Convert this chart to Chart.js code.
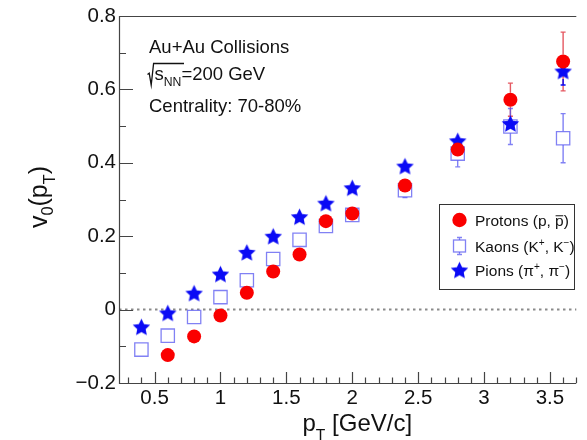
<!DOCTYPE html>
<html>
<head>
<meta charset="utf-8">
<script src="https://cdn.jsdelivr.net/npm/chart.js@4.4.0/dist/chart.umd.min.js"></script>
<style>
  html, body { margin: 0; padding: 0; background: #fff; overflow: hidden; }
  canvas { display: block; }
</style>
</head>
<body>
<canvas id="c" width="587" height="440"></canvas>
<script>
const FONT = '"Liberation Sans", Arial, Helvetica, sans-serif';

// transverse momentum bins, GeV/c
const ptProtons = [0.6, 0.8, 1.0, 1.2, 1.4, 1.6, 1.8, 2.0, 2.4, 2.8, 3.2, 3.6];
const ptKaons   = [0.4, 0.6, 0.8, 1.0, 1.2, 1.4, 1.6, 1.8, 2.0, 2.4, 2.8, 3.2, 3.6];
const ptPions   = [0.4, 0.6, 0.8, 1.0, 1.2, 1.4, 1.6, 1.8, 2.0, 2.4, 2.8, 3.2, 3.6];

// v0(pT) values
const v0Protons = [-0.124, -0.073, -0.016, 0.046, 0.104, 0.150, 0.241, 0.262, 0.338, 0.436, 0.572, 0.676];
const v0Kaons   = [-0.109, -0.071, -0.020, 0.034, 0.080, 0.138, 0.190, 0.228, 0.258, 0.325, 0.425, 0.499, 0.467];
const v0Pions   = [-0.047, -0.009, 0.045, 0.097, 0.156, 0.200, 0.253, 0.290, 0.332, 0.391, 0.460, 0.507, 0.650];

// uncertainties
const errProtons = [0.004, 0.004, 0.004, 0.004, 0.004, 0.005, 0.005, 0.006, 0.010, 0.016, 0.045, 0.080];
const errKaons   = [0.004, 0.004, 0.004, 0.004, 0.004, 0.005, 0.005, 0.006, 0.007, 0.020, 0.036, 0.049, 0.067];
const errPions   = [0.003, 0.003, 0.003, 0.003, 0.003, 0.004, 0.004, 0.005, 0.005, 0.008, 0.012, 0.020, 0.038];

// axis tick labels
const xTickValues = [0.5, 1.0, 1.5, 2.0, 2.5, 3.0, 3.5];
const yTickValues = [-0.2, 0, 0.2, 0.4, 0.6, 0.8];

const RED = 'rgb(250,0,0)';
const BLUE = 'rgb(10,10,245)';
const KAON_BLUE = 'rgba(80,80,240,0.72)';

// filled five-pointed star used as the pion marker
function makeStar(R, ratio, color) {
  const s = Math.ceil(R * 2 + 4);
  const cv = document.createElement('canvas');
  cv.width = s; cv.height = s;
  const g = cv.getContext('2d');
  g.translate(s / 2, s / 2 + R * 0.1);
  g.beginPath();
  for (let i = 0; i < 10; i++) {
    const r = i % 2 === 0 ? R : R * ratio;
    const a = -Math.PI / 2 + i * Math.PI / 5;
    const px = r * Math.cos(a), py = r * Math.sin(a);
    if (i === 0) g.moveTo(px, py); else g.lineTo(px, py);
  }
  g.closePath();
  g.fillStyle = color;
  g.fill();
  return cv;
}
const starImg = makeStar(9.2, 0.48, BLUE);

const toPoints = (xs, ys) => xs.map((x, i) => ({ x: x, y: ys[i] }));

// draw a run of text segments (plain / sub / sup / overlined)
function richWidth(ctx, segs, size) {
  let w = 0;
  for (const s of segs) {
    const fs = (s.sub || s.sup) ? size * (s.scale || 0.65) : size;
    ctx.font = fs + 'px ' + FONT;
    w += ctx.measureText(s.t).width;
  }
  return w;
}
function drawRich(ctx, x, y, segs, size) {
  for (const s of segs) {
    const fs = (s.sub || s.sup) ? size * (s.scale || 0.65) : size;
    ctx.font = fs + 'px ' + FONT;
    let yy = y;
    if (s.sub) yy = y + size * (s.drop || 0.28);
    if (s.sup) yy = y - size * 0.38;
    ctx.fillText(s.t, x, yy);
    const w = ctx.measureText(s.t).width;
    if (s.bar) {
      ctx.save();
      ctx.strokeStyle = ctx.fillStyle;
      ctx.lineWidth = 1;
      ctx.beginPath();
      ctx.moveTo(x + 0.5, yy - size * 0.66);
      ctx.lineTo(x + w - 0.5, yy - size * 0.66);
      ctx.stroke();
      ctx.restore();
    }
    x += w;
  }
  return x;
}

const legendEntries = [
  { kind: 'proton', segs: [{ t: 'Protons (p, ' }, { t: 'p', bar: true }, { t: ')' }] },
  { kind: 'kaon',   segs: [{ t: 'Kaons (K' }, { t: '+', sup: true }, { t: ', K' }, { t: '\u2212', sup: true }, { t: ')' }] },
  { kind: 'pion',   segs: [{ t: 'Pions (\u03c0' }, { t: '+', sup: true }, { t: ', \u03c0' }, { t: '\u2212', sup: true }, { t: ')' }] }
];

const decor = {
  id: 'decor',
  beforeDatasetsDraw(chart) {
    const ctx = chart.ctx, ys = chart.scales.y, a = chart.chartArea;
    // dotted zero line
    ctx.save();
    ctx.strokeStyle = '#8a8a8a';
    ctx.lineWidth = 2;
    ctx.setLineDash([2.5, 3.5]);
    const y0 = ys.getPixelForValue(0);
    ctx.beginPath();
    ctx.moveTo(a.left, y0);
    ctx.lineTo(a.right, y0);
    ctx.stroke();
    ctx.restore();

    // error bars, stopping at the marker edge
    chart.data.datasets.forEach((ds, di) => {
      const meta = chart.getDatasetMeta(di);
      ctx.save();
      ctx.strokeStyle = ds.errColor;
      ctx.lineWidth = 1.4;
      meta.data.forEach((pt, i) => {
        const e = ds.errors[i];
        const v = ds.data[i].y;
        const top = ys.getPixelForValue(v + e);
        const bot = ys.getPixelForValue(v - e);
        const cx = pt.x, cy = pt.y, h = ds.markerHalf;
        if (cy - top <= h) return;
        ctx.beginPath();
        ctx.moveTo(cx, cy - h); ctx.lineTo(cx, top);
        ctx.moveTo(cx, cy + h); ctx.lineTo(cx, bot);
        ctx.moveTo(cx - 2.5, top); ctx.lineTo(cx + 2.5, top);
        ctx.moveTo(cx - 2.5, bot); ctx.lineTo(cx + 2.5, bot);
        ctx.stroke();
      });
      ctx.restore();
    });
  },
  afterDraw(chart) {
    const ctx = chart.ctx, xs = chart.scales.x, ys = chart.scales.y, a = chart.chartArea;
    ctx.save();
    // frame
    ctx.strokeStyle = '#444';
    ctx.lineWidth = 1.2;
    ctx.beginPath();
    ctx.moveTo(a.right, a.top + 0.5);
    ctx.lineTo(a.left + 0.5, a.top + 0.5);
    ctx.lineTo(a.left + 0.5, a.bottom + 0.5);
    ctx.lineTo(a.right, a.bottom + 0.5);
    ctx.stroke();

    // inward ticks on the y axis: major every 0.2, minor every 0.1
    ctx.beginPath();
    for (let k = -2; k <= 8; k++) {
      const y = Math.round(ys.getPixelForValue(k / 10)) + 0.5;
      const len = (k % 2 === 0) ? 14 : 7;
      ctx.moveTo(a.left, y); ctx.lineTo(a.left + len, y);
    }
    // inward ticks on the x axis: major every 0.5, minor every 0.1
    for (let k = 3; k <= 37; k++) {
      const x = Math.round(xs.getPixelForValue(k / 10)) + 0.5;
      const len = (k % 5 === 0) ? 11 : 5.5;
      ctx.moveTo(x, a.bottom); ctx.lineTo(x, a.bottom - len);
    }
    ctx.stroke();

    ctx.fillStyle = '#111';
    ctx.textAlign = 'left';
    ctx.textBaseline = 'alphabetic';

    // y axis title: v0(pT)
    ctx.save();
    ctx.translate(47, 197);
    ctx.rotate(-Math.PI / 2);
    const ySegs = [{ t: 'v' }, { t: '0', sub: true, drop: 0.25 }, { t: '(p' }, { t: 'T', sub: true, drop: 0.3 }, { t: ')' }];
    const yw = richWidth(ctx, ySegs, 25);
    drawRich(ctx, -yw / 2, 0, ySegs, 25);
    ctx.restore();

    // x axis title: pT [GeV/c]
    const xSegs = [{ t: 'p' }, { t: 'T', sub: true, drop: 0.42 }, { t: ' [GeV/c]' }];
    drawRich(ctx, 302.5, 431, xSegs, 24);

    // collision system annotation
    ctx.font = '18.5px ' + FONT;
    ctx.fillText('Au+Au Collisions', 149, 53);
    ctx.fillText('Centrality: 70-80%', 149, 112);
    ctx.strokeStyle = '#111';
    ctx.lineWidth = 1.3;
    ctx.beginPath();
    ctx.moveTo(147.5, 74.5);
    ctx.lineTo(149.2, 73.2);
    ctx.lineTo(151.2, 85);
    ctx.lineTo(153.6, 63.5);
    ctx.lineTo(184, 63.5);
    ctx.stroke();
    drawRich(ctx, 154.5, 80, [{ t: 's' }, { t: 'NN', sub: true, scale: 0.66, drop: 0.3 }, { t: '=200 GeV' }], 18.5);

    // legend box
    const lx = 439.5, ly = 204.5, lw = 135, lh = 85;
    ctx.fillStyle = '#fff';
    ctx.fillRect(lx, ly, lw, lh);
    ctx.strokeStyle = '#333';
    ctx.lineWidth = 1;
    ctx.strokeRect(lx, ly, lw, lh);
    const rows = [220, 246, 270];
    legendEntries.forEach((en, i) => {
      const mx = 459.5, my = rows[i];
      if (en.kind === 'proton') {
        ctx.fillStyle = RED;
        ctx.beginPath(); ctx.arc(mx, my, 7.2, 0, Math.PI * 2); ctx.fill();
      } else if (en.kind === 'kaon') {
        ctx.strokeStyle = KAON_BLUE;
        ctx.lineWidth = 1.3;
        ctx.strokeRect(mx - 6, my - 6, 12, 12);
        ctx.beginPath();
        ctx.moveTo(mx, my - 6); ctx.lineTo(mx, my - 8.5);
        ctx.moveTo(mx - 2.5, my - 8.5); ctx.lineTo(mx + 2.5, my - 8.5);
        ctx.moveTo(mx, my + 6); ctx.lineTo(mx, my + 8.5);
        ctx.moveTo(mx - 2.5, my + 8.5); ctx.lineTo(mx + 2.5, my + 8.5);
        ctx.stroke();
      } else {
        ctx.drawImage(starImg, mx - starImg.width / 2, my - starImg.height / 2);
      }
      ctx.fillStyle = '#111';
      drawRich(ctx, 475, my + 6, en.segs, 15.5);
    });
    ctx.restore();
  }
};

const fmt = v => {
  const r = Math.round(v * 10) / 10;
  if (r === 0) return '0';
  return (r < 0 ? '\u2212' : '') + Math.abs(r).toFixed(1);
};

new Chart(document.getElementById('c'), {
  type: 'scatter',
  data: {
    datasets: [
      {
        label: 'Protons (p, p\u0304)',
        data: toPoints(ptProtons, v0Protons),
        errors: errProtons,
        errColor: 'rgba(225,60,70,0.85)',
        markerHalf: 7,
        pointStyle: 'circle',
        pointRadius: 7,
        pointHoverRadius: 7,
        backgroundColor: RED,
        borderColor: RED,
        borderWidth: 0,
        order: 0
      },
      {
        label: 'Kaons (K\u207a, K\u207b)',
        data: toPoints(ptKaons, v0Kaons),
        errors: errKaons,
        errColor: KAON_BLUE,
        markerHalf: 6.7,
        pointStyle: 'rect',
        pointRadius: 9.4,
        pointHoverRadius: 9.4,
        backgroundColor: 'rgba(255,255,255,1)',
        borderColor: KAON_BLUE,
        borderWidth: 1.3,
        order: 2
      },
      {
        label: 'Pions (\u03c0\u207a, \u03c0\u207b)',
        data: toPoints(ptPions, v0Pions),
        errors: errPions,
        errColor: BLUE,
        markerHalf: 8,
        pointStyle: starImg,
        pointRadius: 9,
        backgroundColor: BLUE,
        borderColor: BLUE,
        order: 1
      }
    ]
  },
  options: {
    responsive: false,
    animation: false,
    devicePixelRatio: 1,
    layout: { padding: { top: 16, right: 0, bottom: 0, left: 0 } },
    plugins: {
      legend: { display: false },
      tooltip: { enabled: false },
      title: { display: false }
    },
    scales: {
      x: {
        type: 'linear',
        min: 0.23,
        max: 3.70,
        grid: { display: false, drawTicks: false },
        border: { display: false },
        afterBuildTicks: s => { s.ticks = xTickValues.map(v => ({ value: v })); },
        afterFit: s => { s.height = 57; },
        ticks: {
          padding: 3,
          color: '#111',
          font: { family: FONT, size: 20.5 },
          maxRotation: 0,
          callback: v => String(v)
        }
      },
      y: {
        type: 'linear',
        min: -0.2,
        max: 0.8,
        grid: { display: false, drawTicks: false },
        border: { display: false },
        afterBuildTicks: s => { s.ticks = yTickValues.map(v => ({ value: v })); },
        afterFit: s => { s.width = 119; },
        ticks: {
          padding: 3,
          color: '#111',
          font: { family: FONT, size: 20.5 },
          callback: fmt
        }
      }
    }
  },
  plugins: [decor]
});
</script>
</body>
</html>
